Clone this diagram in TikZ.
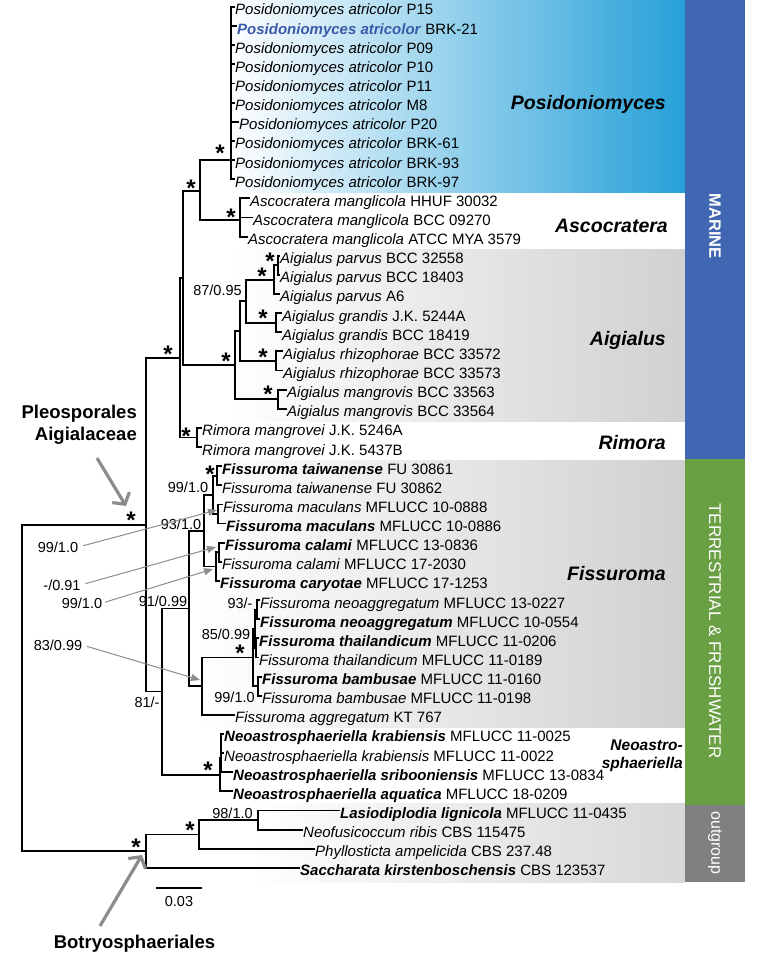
\documentclass[tikz,border=0pt]{standalone}
\usepackage{fontspec}
\setmainfont{Liberation Sans}
\usetikzlibrary{arrows.meta}
\definecolor{marineblue}{RGB}{66,103,178}
\definecolor{terrgreen}{RGB}{106,160,68}
\definecolor{outgray}{RGB}{128,128,128}
\definecolor{posimid}{RGB}{100,200,240}
\definecolor{posiright}{RGB}{38,160,216}
\definecolor{cladegray}{RGB}{208,208,208}
\definecolor{hiblue}{RGB}{58,90,170}
\definecolor{arrowgray}{RGB}{140,140,140}
\newcommand{\taxi}[1]{\textit{#1}}
\newcommand{\taxb}[1]{\textbf{\textit{#1}}}
\newcommand{\astk}{\raisebox{-0.43em}[0.29em][0pt]{*}}
\tikzset{
  taxon/.style={anchor=west, inner xsep=0.5pt, inner ysep=0pt, text height=16pt, text depth=0pt, font=\fontsize{15}{18}\selectfont},
  branch/.style={line width=1.8pt},
  ast/.style={inner sep=0pt, font=\bfseries\fontsize{24}{24}\selectfont},
  support/.style={inner sep=0pt, text height=10.4pt, text depth=0pt, font=\fontsize{14.5}{16}\selectfont},
  cladename/.style={anchor=east, inner sep=0pt, text height=14pt, text depth=0pt, font=\bfseries\itshape\fontsize{19.5}{22}\selectfont},
  striplabel/.style={rotate=-90, text=white, inner sep=0pt},
  pointer/.style={draw=arrowgray, line width=1pt, -{Triangle[length=9pt,width=7pt]}},
  bigpointer/.style={draw=arrowgray, line width=3.2pt, -{Straight Barb[length=8pt,width=20pt]}},
  ordername/.style={inner sep=0pt, align=right, font=\bfseries\fontsize{18.5}{22}\selectfont},
}
\begin{document}
\begin{tikzpicture}[x=1pt,y=1pt,yscale=-1,xscale=1]
\useasboundingbox (0,0) rectangle (756,958);

%Shape: Rectangle (clade shading)
\shade[left color=white, middle color=posimid, right color=posiright] (230,0) rectangle (685,192);
\shade[left color=white, right color=cladegray] (230,249) rectangle (685,421);
\shade[left color=white, right color=cladegray] (200,460) rectangle (685,727);
\shade[left color=white, right color=cladegray!85] (250,803) rectangle (685,882);
%Shape: Rectangle (habitat strips)
\fill[marineblue] (685,0) rectangle (745,459);
\fill[terrgreen] (685,459) rectangle (745,805);
\fill[outgray] (685,805) rectangle (745,882);
\node[striplabel, font=\bfseries\fontsize{16.5}{18}\selectfont] (marine) at (715,226) {MARINE};
\node[striplabel, font=\fontsize{17}{18}\selectfont] (terr) at (715,631) {TERRESTRIAL \& FRESHWATER};
\node[striplabel, font=\fontsize{16}{18}\selectfont] (outg) at (715,843) {outgroup};

%Taxa
\node[taxon] (t1) at (234.5,7.0) {\taxi{Posidoniomyces atricolor} P15};
\node[taxon] (t2) at (236.5,26.1) {{\color{hiblue}\taxb{Posidoniomyces atricolor}} BRK-21};
\node[taxon] (t3) at (234.5,45.3) {\taxi{Posidoniomyces atricolor} P09};
\node[taxon] (t4) at (234.5,64.4) {\taxi{Posidoniomyces atricolor} P10};
\node[taxon] (t5) at (234.5,83.5) {\taxi{Posidoniomyces atricolor} P11};
\node[taxon] (t6) at (234.5,102.7) {\taxi{Posidoniomyces atricolor} M8};
\node[taxon] (t7) at (238.5,121.8) {\taxi{Posidoniomyces atricolor} P20};
\node[taxon] (t8) at (234.5,140.9) {\taxi{Posidoniomyces atricolor} BRK-61};
\node[taxon] (t9) at (234.5,160.0) {\taxi{Posidoniomyces atricolor} BRK-93};
\node[taxon] (t10) at (234.5,179.2) {\taxi{Posidoniomyces atricolor} BRK-97};
\node[taxon] (t11) at (249.5,198.3) {\taxi{Ascocratera manglicola} HHUF 30032};
\node[taxon] (t12) at (252.5,217.4) {\taxi{Ascocratera manglicola} BCC 09270};
\node[taxon] (t13) at (247.5,236.6) {\taxi{Ascocratera manglicola} ATCC MYA 3579};
\node[taxon] (t14) at (279.5,255.7) {\taxi{Aigialus parvus} BCC 32558};
\node[taxon] (t15) at (279.5,274.8) {\taxi{Aigialus parvus} BCC 18403};
\node[taxon] (t16) at (279.5,293.9) {\taxi{Aigialus parvus} A6};
\node[taxon] (t17) at (281.5,313.1) {\taxi{Aigialus grandis} J.K. 5244A};
\node[taxon] (t18) at (281.5,332.2) {\taxi{Aigialus grandis} BCC 18419};
\node[taxon] (t19) at (282.5,351.3) {\taxi{Aigialus rhizophorae} BCC 33572};
\node[taxon] (t20) at (282.5,370.5) {\taxi{Aigialus rhizophorae} BCC 33573};
\node[taxon] (t21) at (286.5,389.6) {\taxi{Aigialus mangrovis} BCC 33563};
\node[taxon] (t22) at (286.5,408.7) {\taxi{Aigialus mangrovis} BCC 33564};
\node[taxon] (t23) at (201.5,427.9) {\taxi{Rimora mangrovei} J.K. 5246A};
\node[taxon] (t24) at (201.5,447.0) {\taxi{Rimora mangrovei} J.K. 5437B};
\node[taxon] (t25) at (221.5,466.1) {\taxb{Fissuroma taiwanense} FU 30861};
\node[taxon] (t26) at (221.5,485.3) {\taxi{Fissuroma taiwanense} FU 30862};
\node[taxon] (t27) at (222.5,504.4) {\taxi{Fissuroma maculans} MFLUCC 10-0888};
\node[taxon] (t28) at (225.5,523.5) {\taxb{Fissuroma maculans} MFLUCC 10-0886};
\node[taxon] (t29) at (224.5,542.6) {\taxb{Fissuroma calami} MFLUCC 13-0836};
\node[taxon] (t30) at (221.5,561.8) {\taxi{Fissuroma calami} MFLUCC 17-2030};
\node[taxon] (t31) at (219.5,580.9) {\taxb{Fissuroma caryotae} MFLUCC 17-1253};
\node[taxon] (t32) at (259.5,600.0) {\taxi{Fissuroma neoaggregatum} MFLUCC 13-0227};
\node[taxon] (t33) at (259.5,619.2) {\taxb{Fissuroma neoaggregatum} MFLUCC 10-0554};
\node[taxon] (t34) at (258.5,638.3) {\taxb{Fissuroma thailandicum} MFLUCC 11-0206};
\node[taxon] (t35) at (258.5,657.4) {\taxi{Fissuroma thailandicum} MFLUCC 11-0189};
\node[taxon] (t36) at (261.5,676.6) {\taxb{Fissuroma bambusae} MFLUCC 11-0160};
\node[taxon] (t37) at (261.5,695.7) {\taxi{Fissuroma bambusae} MFLUCC 11-0198};
\node[taxon] (t38) at (234.5,714.8) {\taxi{Fissuroma aggregatum} KT 767};
\node[taxon] (t39) at (223.5,733.9) {\taxb{Neoastrosphaeriella krabiensis} MFLUCC 11-0025};
\node[taxon] (t40) at (223.5,753.1) {\taxi{Neoastrosphaeriella krabiensis} MFLUCC 11-0022};
\node[taxon] (t41) at (232.5,772.2) {\taxb{Neoastrosphaeriella sribooniensis} MFLUCC 13-0834};
\node[taxon] (t42) at (232.5,791.3) {\taxb{Neoastrosphaeriella aquatica} MFLUCC 18-0209};
\node[taxon] (t43) at (339.5,810.5) {\taxb{Lasiodiplodia lignicola} MFLUCC 11-0435};
\node[taxon] (t44) at (302.5,829.6) {\taxi{Neofusicoccum ribis} CBS 115475};
\node[taxon] (t45) at (314.5,848.7) {\taxi{Phyllosticta ampelicida} CBS 237.48};
\node[taxon] (t46) at (299.5,867.9) {\taxb{Saccharata kirstenboschensis} CBS 123537};

%Internal nodes
\coordinate (nP) at (231,160);
\coordinate (nA) at (240,220);
\coordinate (nPA) at (200,191);
\coordinate (nI) at (278,265.3);
\coordinate (nPv) at (274,279.6);
\coordinate (nG) at (276,322.6);
\coordinate (nR) at (276,360.9);
\coordinate (nMg) at (278,399.2);
\coordinate (nC2) at (246,301.1);
\coordinate (nC1) at (240,331);
\coordinate (nC0) at (235,365.1);
\coordinate (nM1) at (183,278);
\coordinate (nRi) at (197,437.5);
\coordinate (nM2) at (180,357.7);
\coordinate (nTw) at (217,475.7);
\coordinate (nMc) at (218,514);
\coordinate (nUA) at (213,494.9);
\coordinate (nCA) at (219,552.2);
\coordinate (nUB) at (216,566.5);
\coordinate (nU) at (204,530.7);
\coordinate (nNN) at (257,609.6);
\coordinate (nNT) at (256,647.9);
\coordinate (nNA) at (255,628.7);
\coordinate (nNB) at (258,686.1);
\coordinate (nN) at (253,657.4);
\coordinate (nF2) at (202,686.1);
\coordinate (nF) at (189,608.4);
\coordinate (nNe1) at (221,743.5);
\coordinate (nNe2) at (221,757.9);
\coordinate (nNe) at (220,774.6);
\coordinate (nT) at (162,691.5);
\coordinate (nPl) at (146,524.6);
\coordinate (nB2) at (258,820);
\coordinate (nB1) at (199,834.4);
\coordinate (nB) at (146,851.1);
\coordinate (nRoot) at (22,687.9);

%Branches
\draw[branch] (nP) |- (t1.west) (nP) |- (t2.west) (nP) |- (t3.west) (nP) |- (t4.west) (nP) |- (t5.west)
  (nP) |- (t6.west) (nP) |- (t7.west) (nP) |- (t8.west) (nP) |- (t9.west) (nP) |- (t10.west);
\draw[branch] (nA) |- (t11.west) (nA) |- (t12.west) (nA) |- (t13.west);
\draw[branch] (nPA) |- (nP) (nPA) |- (nA);
\draw[branch] (nI) |- (t14.west) (nI) |- (t15.west) (nPv) |- (nI) (nPv) |- (t16.west);
\draw[branch] (nG) |- (t17.west) (nG) |- (t18.west);
\draw[branch] (nR) |- (t19.west) (nR) |- (t20.west);
\draw[branch] (nMg) |- (t21.west) (nMg) |- (t22.west);
\draw[branch] (nC2) |- (nPv) (nC2) |- (nG) (nC1) |- (nC2) (nC1) |- (nR) (nC0) |- (nC1) (nC0) |- (nMg);
\draw[branch] (nM1) |- (nPA) (nM1) |- (nC0);
\draw[branch] (nRi) |- (t23.west) (nRi) |- (t24.west);
\draw[branch] (nM2) |- (nM1) (nM2) |- (nRi);
\draw[branch] (nTw) |- (t25.west) (nTw) |- (t26.west) (nMc) |- (t27.west) (nMc) |- (t28.west);
\draw[branch] (nUA) |- (nTw) (nUA) |- (nMc);
\draw[branch] (nCA) |- (t29.west) (nCA) |- (t30.west) (nUB) |- (nCA) (nUB) |- (t31.west);
\draw[branch] (nU) |- (nUA) (nU) |- (nUB);
\draw[branch] (nNN) |- (t32.west) (nNN) |- (t33.west) (nNT) |- (t34.west) (nNT) |- (t35.west);
\draw[branch] (nNA) |- (nNN) (nNA) |- (nNT);
\draw[branch] (nNB) |- (t36.west) (nNB) |- (t37.west);
\draw[branch] (nN) |- (nNA) (nN) |- (nNB);
\draw[branch] (nF2) |- (nN) (nF2) |- (t38.west);
\draw[branch] (nF) |- (nU) (nF) |- (nF2);
\draw[branch] (nNe1) |- (t39.west) (nNe1) |- (t40.west) (nNe2) |- (nNe1) (nNe2) |- (t41.west);
\draw[branch] (nNe) |- (nNe2) (nNe) |- (t42.west);
\draw[branch] (nT) |- (nF) (nT) |- (nNe);
\draw[branch] (nPl) |- (nM2) (nPl) |- (nT);
\draw[branch] (nB2) |- (t43.west) (nB2) |- (t44.west) (nB1) |- (nB2) (nB1) |- (t45.west);
\draw[branch] (nB) |- (nB1) (nB) |- (t46.west);
\draw[branch] (nRoot) |- (nPl) (nRoot) |- (nB);

%Support: asterisks
\node[ast] (s1) at (220,148) {\astk};
\node[ast] (s2) at (191,183) {\astk};
\node[ast] (s3) at (231,212) {\astk};
\node[ast] (s4) at (270,256) {\astk};
\node[ast] (s5) at (262,271) {\astk};
\node[ast] (s6) at (263,313) {\astk};
\node[ast] (s7) at (263,352) {\astk};
\node[ast] (s8) at (268,389) {\astk};
\node[ast] (s9) at (226,356) {\astk};
\node[ast] (s10) at (168,349) {\astk};
\node[ast] (s11) at (186,431) {\astk};
\node[ast] (s12) at (131,515) {\astk};
\node[ast] (s13) at (210,469) {\astk};
\node[ast] (s14) at (240,648) {\astk};
\node[ast] (s15) at (208,765) {\astk};
\node[ast] (s16) at (190,825) {\astk};
\node[ast] (s17) at (136,842) {\astk};

%Support: values
\node[support] (v1) at (217.5,290) {87/0.95};
\node[support] (v2) at (188,487) {99/1.0};
\node[support] (v3) at (181,524) {93/1.0};
\node[support] (v4) at (163,601) {91/0.99};
\node[support] (v5) at (240,603) {93/-};
\node[support] (v6) at (226,634) {85/0.99};
\node[support] (v7) at (234.5,697) {99/1.0};
\node[support] (v8) at (147,702) {81/-};
\node[support] (v9) at (232.5,813) {98/1.0};
\node[support] (l1) at (58,547) {99/1.0};
\node[support] (l2) at (62,585) {-/0.91};
\node[support] (l3) at (82,603) {99/1.0};
\node[support] (l4) at (58,645) {83/0.99};
\coordinate (a1) at (217,510);
\coordinate (a2) at (216,547);
\coordinate (a3) at (213,569);
\coordinate (a4) at (200,680);
\draw[pointer, shorten <=5pt] (l1.east) -- (a1);
\draw[pointer, shorten <=5pt] (l2.east) -- (a2);
\draw[pointer, shorten <=3pt] (l3.east) -- (a3);
\draw[pointer, shorten <=5pt] (l4.east) -- (a4);

%Clade names
\node[cladename] (cPos) at (666,102) {Posidoniomyces};
\node[cladename] (cAsc) at (668,225) {Ascocratera};
\node[cladename] (cAig) at (666,338) {Aigialus};
\node[cladename] (cRim) at (666,442) {Rimora};
\node[cladename] (cFis) at (666,573) {Fissuroma};
\node[anchor=east, inner sep=0pt, align=right, font=\bfseries\itshape\fontsize{15.5}{18}\selectfont] (cNeo) at (683,755.6) {Neoastro-\\sphaeriella};

%Orders with pointers
\node[ordername, anchor=east] (pleo) at (137,424.8) {Pleosporales\\Aigialaceae};
\coordinate (pleoTail) at (97,458);
\coordinate (pleoTip) at (126,506);
\draw[bigpointer] (pleoTail) -- (pleoTip);
\node[ordername, anchor=base] (botr) at (134.5,948.6) {Botryosphaeriales};
\coordinate (botrTail) at (100,926);
\coordinate (botrTip) at (142,855);
\draw[bigpointer] (botrTail) -- (botrTip);

%Scale bar
\coordinate (sbL) at (156,888);
\coordinate (sbR) at (202,888);
\draw[branch] (sbL) -- (sbR);
\node[support] (sb) at (179,901) {0.03};

\end{tikzpicture}
\end{document}
